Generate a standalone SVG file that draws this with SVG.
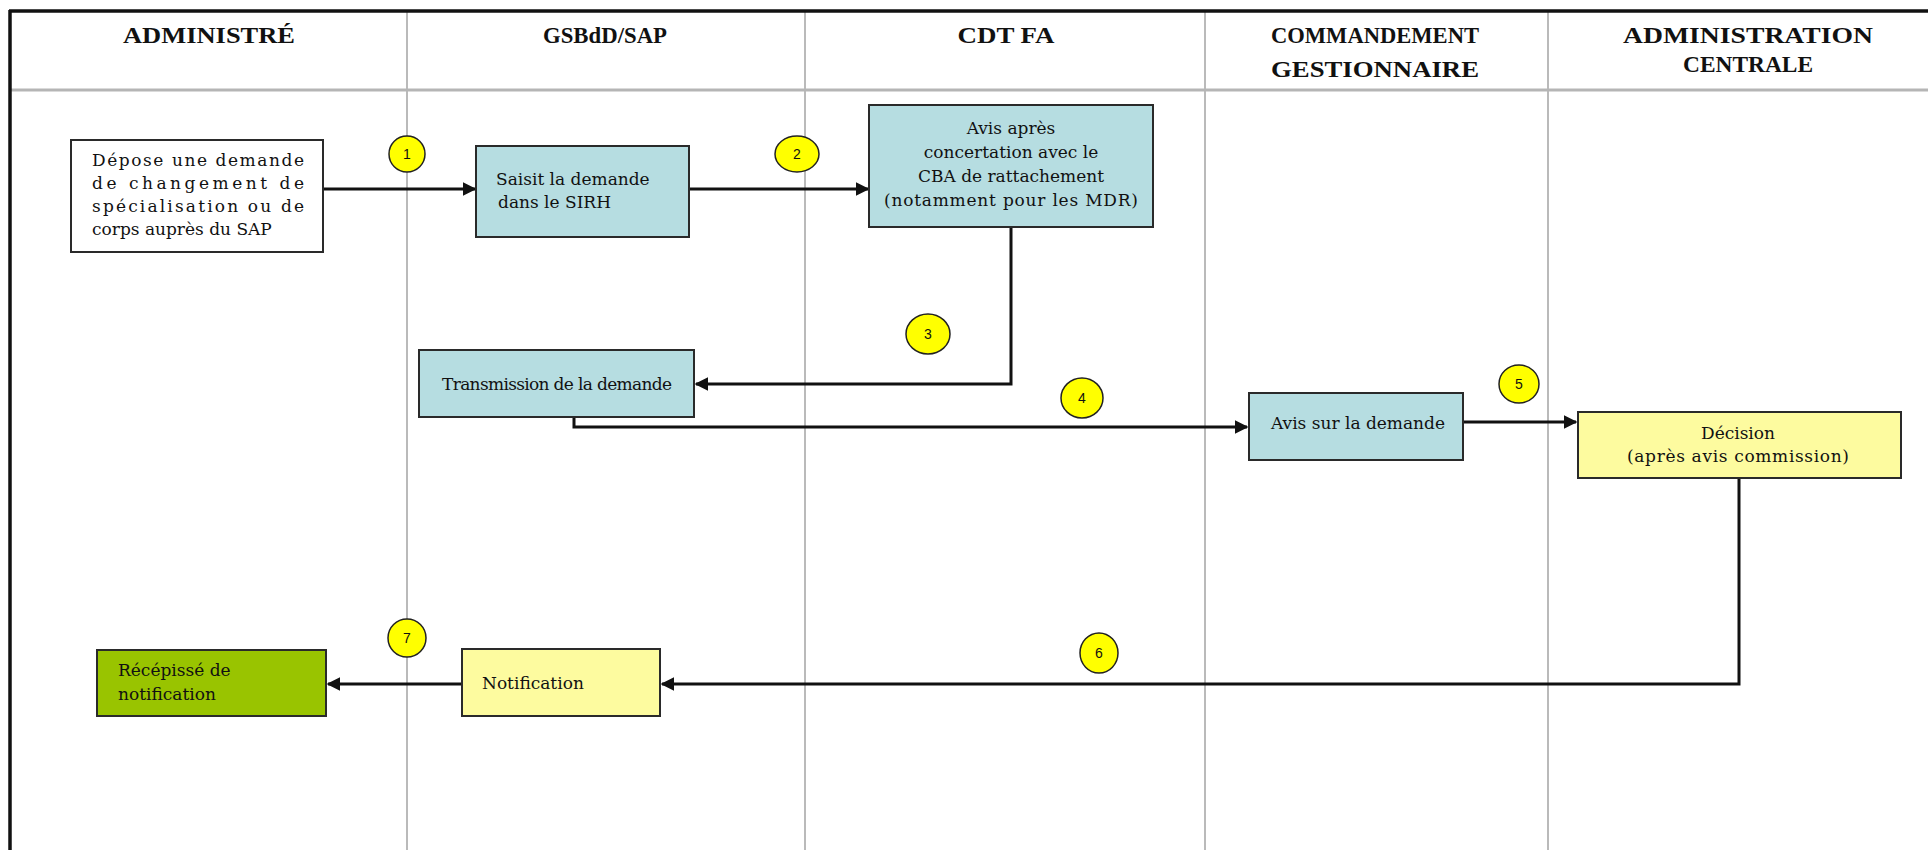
<svg xmlns="http://www.w3.org/2000/svg" width="1928" height="850" viewBox="0 0 1928 850">
<defs>
<marker id="ah" viewBox="0 0 10 10" refX="9" refY="5" markerWidth="4.5" markerHeight="4.5" orient="auto" markerUnits="strokeWidth">
<path d="M0,0 L10,5 L0,10 z" fill="#111"/>
</marker>
<style>
.hd{font-family:"Liberation Serif","Times New Roman",serif;font-weight:bold;font-size:24px;fill:#111;text-anchor:middle}
.tx{font-family:"DejaVu Serif","Liberation Serif",serif;font-size:17px;fill:#111}
.c{text-anchor:middle}
.box{stroke:#2a2a2a;stroke-width:2}
.blue{fill:#b6dde1}
.yel{fill:#fdfb9f}
.grn{fill:#99c400}
.wht{fill:#fff}
.num{fill:#ffff00;stroke:#222;stroke-width:1.5}
.nt{font-family:"Liberation Sans",Arial,sans-serif;font-size:14px;fill:#111;text-anchor:middle}
.lane{stroke:#a3a3a3;stroke-width:1.5}
.con{fill:none;stroke:#111;stroke-width:3;marker-end:url(#ah)}
</style>
</defs>
<rect width="1928" height="850" fill="#fff"/>
<g id="frame">
<line class="lane" x1="407" y1="10" x2="407" y2="850"/>
<line class="lane" x1="805" y1="10" x2="805" y2="850"/>
<line class="lane" x1="1205" y1="10" x2="1205" y2="850"/>
<line class="lane" x1="1548" y1="10" x2="1548" y2="850"/>
<line x1="9" y1="90" x2="1928" y2="90" stroke="#b5b5b5" stroke-width="3"/>
<line x1="9" y1="11" x2="1928" y2="11" stroke="#111" stroke-width="3.5"/>
<line x1="10" y1="10" x2="10" y2="850" stroke="#111" stroke-width="3.5"/>
</g>
<g id="headers">
<text class="hd" x="209" y="43" textLength="172" lengthAdjust="spacingAndGlyphs">ADMINISTRÉ</text>
<text class="hd" x="605" y="43" textLength="124" lengthAdjust="spacingAndGlyphs">GSBdD/SAP</text>
<text class="hd" x="1006" y="43" textLength="97" lengthAdjust="spacingAndGlyphs">CDT FA</text>
<text class="hd" x="1375" y="43" textLength="208" lengthAdjust="spacingAndGlyphs">COMMANDEMENT</text>
<text class="hd" x="1375" y="77" textLength="208" lengthAdjust="spacingAndGlyphs">GESTIONNAIRE</text>
<text class="hd" x="1748" y="43" textLength="250" lengthAdjust="spacingAndGlyphs">ADMINISTRATION</text>
<text class="hd" x="1748" y="72" textLength="130" lengthAdjust="spacingAndGlyphs">CENTRALE</text>
</g>
<g id="connectors">
<line class="con" x1="324" y1="189" x2="475" y2="189"/>
<line class="con" x1="690" y1="189" x2="868" y2="189"/>
<polyline class="con" points="1011,228 1011,384 696,384"/>
<polyline class="con" points="574,418 574,427 1247,427"/>
<line class="con" x1="1464" y1="422" x2="1576" y2="422"/>
<polyline class="con" points="1739,479 1739,684 662,684"/>
<line class="con" x1="461" y1="684" x2="328" y2="684"/>
</g>
<g id="n-depose">
<rect class="box wht" x="71" y="140" width="252" height="112"/>
<text class="tx" x="92" y="166" textLength="212" lengthAdjust="spacing">Dépose une demande</text>
<text class="tx" x="92" y="189" textLength="212" lengthAdjust="spacing">de changement de</text>
<text class="tx" x="92" y="212" textLength="212" lengthAdjust="spacing">spécialisation ou de</text>
<text class="tx" x="92" y="235">corps auprès du SAP</text>
</g>
<g id="n-saisit">
<rect class="box blue" x="476" y="146" width="213" height="91"/>
<text class="tx" x="496" y="185">Saisit la demande</text>
<text class="tx" x="498" y="208">dans le SIRH</text>
</g>
<g id="n-cdt">
<rect class="box blue" x="869" y="105" width="284" height="122"/>
<text class="tx c" x="1011" y="134">Avis après</text>
<text class="tx c" x="1011" y="158">concertation avec le</text>
<text class="tx c" x="1011" y="182">CBA de rattachement</text>
<text class="tx c" x="1011" y="206" textLength="254" lengthAdjust="spacing">(notamment pour les MDR)</text>
</g>
<g id="n-transmission">
<rect class="box blue" x="419" y="350" width="275" height="67"/>
<text class="tx" x="442" y="390" textLength="230" lengthAdjust="spacing">Transmission de la demande</text>
</g>
<g id="n-avis">
<rect class="box blue" x="1249" y="393" width="214" height="67"/>
<text class="tx" x="1271" y="429" textLength="174" lengthAdjust="spacing">Avis sur la demande</text>
</g>
<g id="n-decision">
<rect class="box yel" x="1578" y="412" width="323" height="66"/>
<text class="tx c" x="1738" y="439">Décision</text>
<text class="tx c" x="1738" y="462" textLength="222" lengthAdjust="spacing">(après avis commission)</text>
</g>
<g id="n-notification">
<rect class="box yel" x="462" y="649" width="198" height="67"/>
<text class="tx" x="482" y="689">Notification</text>
</g>
<g id="n-recepisse">
<rect class="box grn" x="97" y="650" width="229" height="66"/>
<text class="tx" x="118" y="676">Récépissé de</text>
<text class="tx" x="118" y="700">notification</text>
</g>
<g id="steps">
<ellipse class="num" cx="407" cy="154" rx="18" ry="18"/><text class="nt" x="407" y="159">1</text>
<ellipse class="num" cx="797" cy="154" rx="22" ry="18"/><text class="nt" x="797" y="159">2</text>
<ellipse class="num" cx="928" cy="334" rx="22" ry="20"/><text class="nt" x="928" y="339">3</text>
<ellipse class="num" cx="1082" cy="398" rx="21" ry="20"/><text class="nt" x="1082" y="403">4</text>
<ellipse class="num" cx="1519" cy="384" rx="20" ry="19"/><text class="nt" x="1519" y="389">5</text>
<ellipse class="num" cx="1099" cy="653" rx="19" ry="20"/><text class="nt" x="1099" y="658">6</text>
<ellipse class="num" cx="407" cy="638" rx="19" ry="19"/><text class="nt" x="407" y="643">7</text>
</g>
</svg>
